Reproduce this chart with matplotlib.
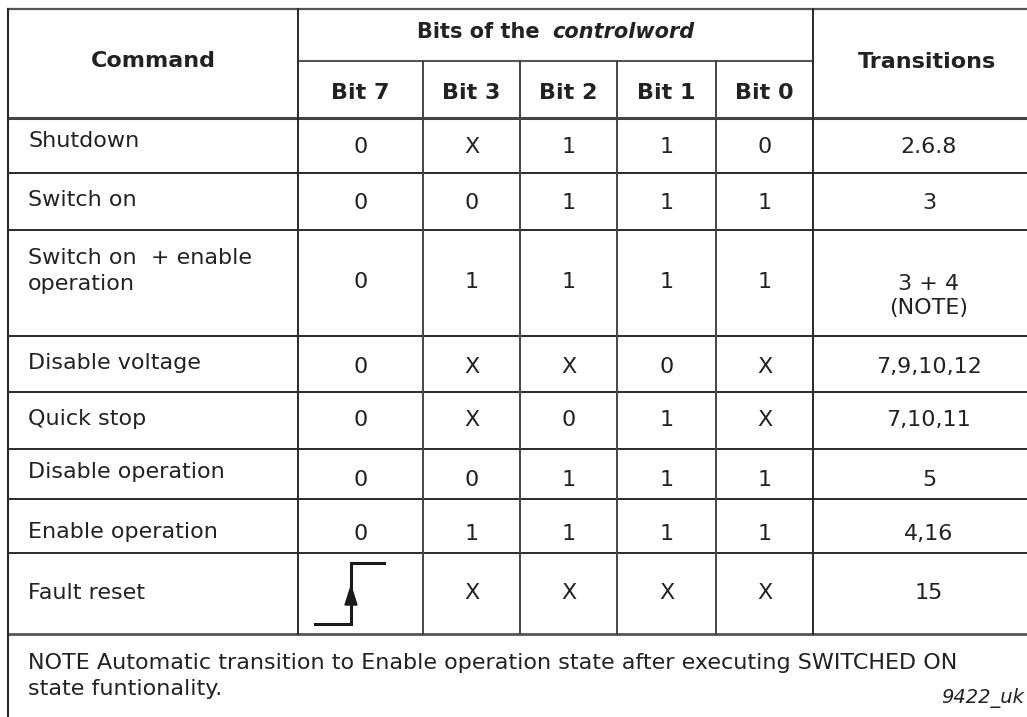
import matplotlib
matplotlib.use("Agg")
import matplotlib.pyplot as plt
from matplotlib.patches import Polygon

commands = ["Shutdown", "Switch on", "Switch on  + enable\noperation", "Disable voltage",
            "Quick stop", "Disable operation", "Enable operation", "Fault reset"]
bit_names = ["Bit 7", "Bit 3", "Bit 2", "Bit 1", "Bit 0"]
bit7 = ["0", "0", "0", "0", "0", "0", "0", "STEP"]
bit3 = ["X", "0", "1", "X", "X", "0", "1", "X"]
bit2 = ["1", "1", "1", "X", "0", "1", "1", "X"]
bit1 = ["1", "1", "1", "0", "1", "1", "1", "X"]
bit0 = ["0", "1", "1", "X", "X", "1", "1", "X"]
transitions = ["2.6.8", "3", "3 + 4\n(NOTE)", "7,9,10,12", "7,10,11", "5", "4,16", "15"]
note_lines = ["NOTE Automatic transition to Enable operation state after executing SWITCHED ON",
              "state funtionality."]
ref = "9422_uk"

# layout (pixel coordinates)
W, H = 1027, 717
col_x = [8, 298, 423, 520, 617, 716, 813, 1045]
row_y = [118, 173, 230, 336, 392, 449, 499, 553, 634]
top, mid = 9, 61
text_y = [147, 203, 282, 367, 420, 480, 534, 593]

fig = plt.figure(figsize=(W / 100, H / 100), dpi=100)
ax = fig.add_axes([0, 0, 1, 1])
ax.set_xlim(0, W)
ax.set_ylim(H, 0)
ax.axis("off")

lc = "#2a2a2a"
tc = "#222222"
fs = 16.0
fam = ["DejaVu Sans"]

# lines
ax.plot([col_x[0], W + 5], [top, top], color="#555555", lw=1.6)
ax.plot([col_x[1], col_x[6]], [mid, mid], color="#555555", lw=1.5)
ax.plot([col_x[0], W + 5], [row_y[0], row_y[0]], color="#444444", lw=2.2)
for y in row_y[1:-1]:
    ax.plot([col_x[0], W + 5], [y, y], color=lc, lw=1.4)
ax.plot([col_x[0], W + 5], [row_y[-1], row_y[-1]], color="#555555", lw=2.0)
ax.plot([col_x[0], col_x[0]], [top, H + 5], color=lc, lw=1.5)
for x in [col_x[1], col_x[6]]:
    ax.plot([x, x], [top, row_y[-1]], color=lc, lw=1.4)
for x in col_x[2:6]:
    ax.plot([x, x], [mid, row_y[-1]], color="#444444", lw=1.4)

# header
ax.text((col_x[0] + col_x[1]) / 2, 61, "Command", ha="center", va="center",
        fontsize=fs, fontweight="bold", color=tc, family=fam)
ax.text((col_x[6] + col_x[7]) / 2 - 2, 62, "Transitions", ha="center", va="center",
        fontsize=fs, fontweight="bold", color=tc, family=fam)
hfs = 15.0
t1 = ax.text(0, 32, "Bits of the ", ha="left", va="center", fontsize=hfs,
             fontweight="bold", color=tc, family=fam)
t2 = ax.text(0, 32, "controlword", ha="left", va="center", fontsize=hfs,
             fontweight="bold", style="italic", color=tc, family=fam)
fig.canvas.draw()
r = fig.canvas.get_renderer()
w1 = t1.get_window_extent(r).width
w2 = t2.get_window_extent(r).width
sp = 5
start = (col_x[1] + col_x[6]) / 2 - (w1 + w2 + sp) / 2
t1.set_x(start)
t2.set_x(start + w1 + sp)

for i, b in enumerate(bit_names):
    ax.text((col_x[i + 1] + col_x[i + 2]) / 2, 93, b, ha="center", va="center",
            fontsize=fs, fontweight="bold", color=tc, family=fam)

# body
cmd_y = [141, 200, 271, 363, 419, 472, 532, 593]
bits = [bit7, bit3, bit2, bit1, bit0]
for r_i in range(len(commands)):
    ax.text(28, cmd_y[r_i], commands[r_i], ha="left", va="center", fontsize=fs,
            color=tc, family=fam, linespacing=1.35)
    for c_i, col in enumerate(bits):
        v = col[r_i]
        cx = (col_x[c_i + 1] + col_x[c_i + 2]) / 2
        if v == "STEP":
            ax.plot([315, 351, 351, 384], [624, 624, 563, 563], color="#1a1a1a", lw=2.2,
                    solid_joinstyle="miter")
            ax.add_patch(Polygon([[345, 605], [357, 605], [351, 586]], closed=True,
                                 color="#1a1a1a"))
        else:
            ax.text(cx, text_y[r_i], v, ha="center", va="center", fontsize=fs,
                    color=tc, family=fam)
    ty = text_y[r_i] + (14 if "\n" in transitions[r_i] else 0)
    ax.text(929, ty, transitions[r_i], ha="center", va="center", fontsize=fs,
            color=tc, family=fam, linespacing=1.2)

for k, line in enumerate(note_lines):
    ax.text(28, 663 + 26 * k, line, ha="left", va="center", fontsize=fs, color=tc,
            family=fam)
ax.text(1024, 698, ref, ha="right", va="center", fontsize=14, style="italic",
        color=tc, family=fam)

fig.savefig("out.png", dpi=100)
